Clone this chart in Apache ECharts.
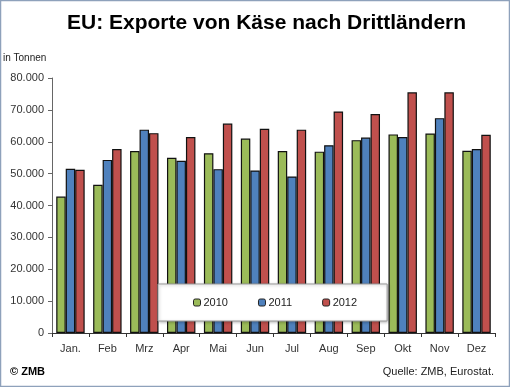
<!DOCTYPE html>
<html><head><meta charset="utf-8">
<script src="https://cdn.jsdelivr.net/npm/echarts@6/dist/echarts.min.js"></script>
<style>html,body{margin:0;padding:0;background:#fff}#c{width:510px;height:387px}</style>
</head><body><div id="c"></div>
<script>
const categories = ['Jan.','Feb','Mrz','Apr','Mai','Jun','Jul','Aug','Sep','Okt','Nov','Dez'];
const years = ['2010','2011','2012'];
const v2010 = [42800,46500,57100,55000,56400,61000,57100,56900,60500,62300,62600,57200];
const v2011 = [51500,54300,63800,54000,51400,51000,49100,58900,61300,61500,67400,57700];
const v2012 = [51200,57700,62700,61500,65700,64100,63800,69500,68700,75500,75500,62200];
const colors = ['#9bbb59','#4f81bd','#c0504d'];
const font = 'Liberation Sans, Arial, sans-serif';
const chart = echarts.init(document.getElementById('c'));
const fmt = v => v === 0 ? '0' : (v/1000).toFixed(0) + '.000';
const seriesData = [v2010, v2011, v2012];
chart.setOption({
  animation: false,
  graphic: [
    {type:'rect', shape:{x:0.5,y:0.5,width:509,height:386}, style:{fill:'none', stroke:'#8ea1bb', lineWidth:1.5}, silent:true},
    {type:'text', left:67, top:13, style:{text:'EU: Exporte von Käse nach Drittländern', font:'bold 21px ' + font, fill:'#000'}},
    {type:'text', left:3, top:53, style:{text:'in Tonnen', font:'10px ' + font, fill:'#222'}},
    {type:'text', left:10, top:366, style:{text:'© ZMB', font:'bold 11px ' + font, fill:'#000'}},
    {type:'text', right:16, top:366, style:{text:'Quelle: ZMB, Eurostat.', font:'11px ' + font, fill:'#222'}}
  ],
  legend: {
    data: years, left:158, top:284, orient:'horizontal',
    padding:[13,30,13,35], itemGap:30, itemWidth:7, itemHeight:7,
    backgroundColor:'#fff', borderColor:'#999', borderWidth:1,
    shadowColor:'rgba(0,0,0,0.25)', shadowBlur:3, shadowOffsetX:1, shadowOffsetY:1,
    textStyle:{fontFamily:font, fontSize:11, color:'#222', padding:[0,0,0,-2]},
    itemStyle:{borderColor:'#222', borderWidth:1}
  },
  grid: {left:52, right:15, top:78, bottom:54},
  xAxis: {
    type:'category', data:categories,
    axisLine:{lineStyle:{color:'#333'}},
    axisTick:{show:true, length:4, lineStyle:{color:'#333'}},
    axisLabel:{fontFamily:font, fontSize:11, color:'#333', margin:10}
  },
  yAxis: {
    type:'value', min:0, max:80000, interval:10000,
    splitLine:{show:false},
    axisLine:{show:true, lineStyle:{color:'#666'}},
    axisTick:{show:true, inside:false, length:4, lineStyle:{color:'#666'}},
    axisLabel:{fontFamily:font, fontSize:11, color:'#333', margin:8, formatter:fmt}
  },
  series: years.map((y,i)=>({
    name:y, type:'bar', data:seriesData[i],
    barGap:'0%', barCategoryGap:'23%',
    itemStyle:{color:colors[i], borderColor:'#111', borderWidth:1.2}
  }))
});
</script></body></html>
